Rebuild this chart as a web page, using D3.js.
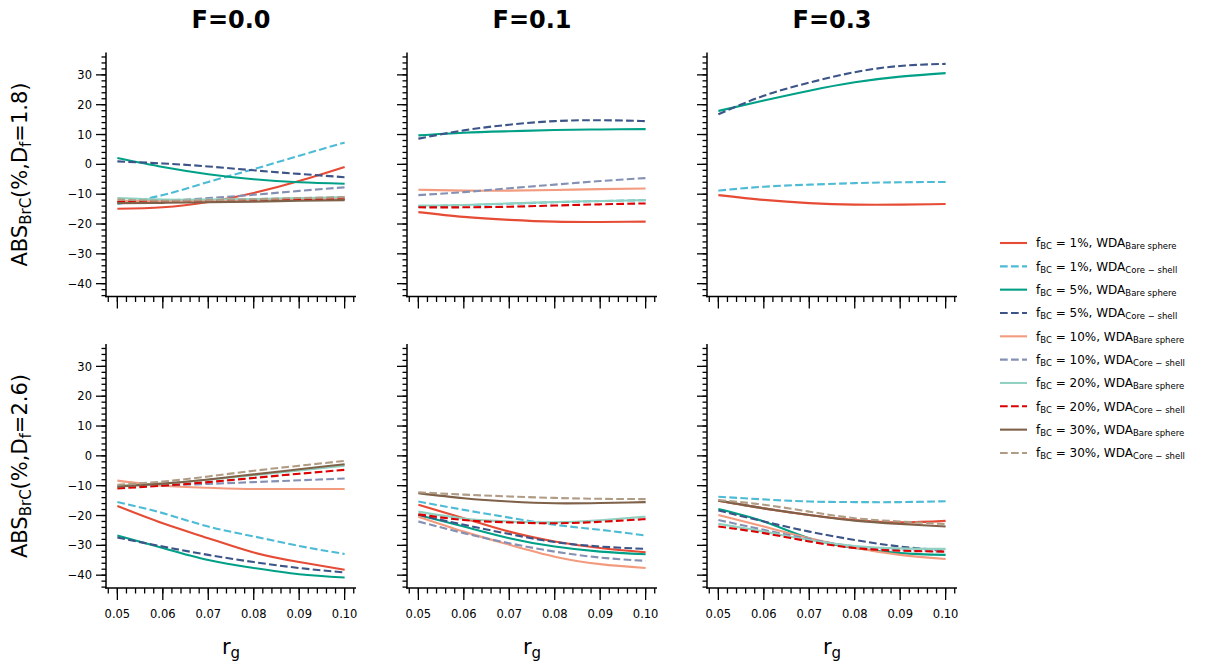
<!DOCTYPE html>
<meta charset="utf-8">
<title>ABS BrC vs r_g</title>
<style>
body {
  margin: 0px;
  background: white;
  font-family: "DejaVu Sans", sans-serif;
}
.spine {
  stroke: #000;
  stroke-width: 1.5;
}
.tick {
  stroke: #000;
  stroke-width: 1.3;
}
.ticklabel {
  font-size: 11.5px;
  fill: #000;
}
.series {
  fill: none;
  stroke-width: 2.1;
}
</style>
<body>
<svg id="chart" width="1205" height="670"></svg>
</body>
<script src="https://cdn.jsdelivr.net/npm/d3@7"></script>
<script>

// x values (r_g) read at each major tick
var rg = [0.05, 0.06, 0.07, 0.08, 0.09, 0.10];

var fireLabels = ["F=0.0", "F=0.1", "F=0.3"];
var dfLabels = ["1.8", "2.6"];

var fbc = ["1%", "1%", "5%", "5%", "10%", "10%", "20%", "20%", "30%", "30%"];
var wda = ["Bare sphere", "Core − shell", "Bare sphere", "Core − shell", "Bare sphere",
           "Core − shell", "Bare sphere", "Core − shell", "Bare sphere", "Core − shell"];
var colors = ["#E64B35", "#4DBBD5", "#00A087", "#3C5488", "#F39B7F",
              "#8491B4", "#91D1C2", "#DC0000", "#7E6148", "#B09C85"];
var dashed = [false, true, false, true, false, true, false, true, false, true];

// one array per panel, 10 series each (null = not drawn)
var dfLowF00 = [
  [-14.9, -14.4, -12.6, -9.6, -5.6, -0.9],
  [-13.3, -10.3, -5.9, -1.6, 2.9, 7.3],
  [2.1, -0.9, -3.3, -5.0, -6.0, -6.5],
  [1.0, 0.3, -0.7, -2.0, -3.2, -4.3],
  [-12.3, -12.2, -12.0, -11.8, -11.6, -11.5],
  [-12.6, -12.2, -11.3, -10.2, -8.9, -7.7],
  [-11.3, -11.8, -11.8, -11.6, -11.3, -11.0],
  [-12.6, -12.5, -12.3, -12.1, -11.9, -11.7],
  [-13.0, -12.9, -12.7, -12.5, -12.2, -12.0],
  [-11.8, -12.2, -12.0, -11.7, -11.3, -11.0]
];
var dfLowF01 = [
  [-16.0, -17.6, -18.6, -19.2, -19.3, -19.2],
  [-14.1, -13.7, -13.2, -12.7, -12.3, -12.0],
  [9.7, 10.6, 11.1, 11.5, 11.7, 11.8],
  [8.6, 11.4, 13.3, 14.5, 14.8, 14.5],
  [-8.5, -8.8, -8.8, -8.6, -8.3, -8.1],
  [-10.3, -9.3, -8.0, -6.8, -5.6, -4.6],
  [-13.8, -13.6, -13.1, -12.6, -12.3, -12.0],
  [-14.4, -14.4, -14.2, -13.8, -13.4, -13.1],
  null,
  null
];
var dfLowF03 = [
  [-10.3, -11.9, -13.0, -13.5, -13.5, -13.3],
  [-8.8, -7.5, -6.8, -6.3, -6.0, -5.9],
  [17.9, 21.4, 24.7, 27.5, 29.4, 30.6],
  [16.8, 23.0, 27.4, 30.9, 33.0, 33.7],
  null, null, null, null, null, null
];
var dfHighF00 = [
  [-16.8, -22.6, -27.6, -32.4, -35.6, -38.2],
  [-15.5, -19.2, -23.7, -27.0, -30.2, -32.9],
  [-26.7, -30.9, -34.9, -37.6, -39.7, -40.8],
  [-27.4, -30.4, -33.2, -35.6, -37.6, -39.1],
  [-8.3, -10.0, -10.7, -11.1, -11.1, -11.1],
  [-10.1, -9.9, -9.4, -8.8, -8.2, -7.6],
  [-10.0, -9.3, -8.0, -6.5, -4.9, -3.3],
  [-10.9, -10.0, -8.8, -7.4, -6.0, -4.7],
  [-10.3, -9.3, -7.9, -6.2, -4.5, -2.8],
  [-9.7, -8.6, -6.9, -5.0, -3.3, -1.7]
];
var dfHighF01 = [
  [-16.4, -20.9, -25.4, -28.7, -30.9, -32.3],
  [-15.3, -18.1, -20.7, -23.1, -24.8, -26.7],
  [-19.8, -23.7, -27.6, -30.4, -32.1, -33.0],
  [-19.8, -23.1, -26.2, -28.9, -30.4, -31.2],
  [-20.4, -25.4, -29.8, -33.8, -36.3, -37.6],
  [-22.0, -25.9, -29.3, -32.1, -34.1, -35.2],
  [-18.7, -21.0, -22.0, -22.3, -21.6, -20.4],
  [-19.6, -21.5, -22.3, -22.6, -22.1, -21.2],
  [-12.5, -14.2, -15.3, -15.9, -15.8, -15.5],
  [-12.2, -13.0, -13.6, -14.1, -14.4, -14.5]
];
var dfHighF03 = [
  [-15.0, -17.6, -19.8, -21.5, -22.3, -21.8],
  [-13.7, -14.6, -15.3, -15.5, -15.5, -15.2],
  [-17.8, -22.0, -27.6, -30.9, -32.6, -33.2],
  [-18.3, -22.0, -25.4, -28.2, -30.4, -31.7],
  [-19.8, -23.7, -27.6, -30.8, -33.2, -34.6],
  [-21.5, -24.8, -27.9, -30.4, -31.6, -32.1],
  [-22.8, -25.4, -28.2, -30.2, -31.0, -31.2],
  [-23.7, -25.9, -28.7, -30.9, -31.8, -32.1],
  [-15.0, -17.6, -19.8, -21.7, -22.8, -23.7],
  [-14.8, -16.4, -18.7, -20.9, -22.0, -22.9]
];

var panels = [[dfLowF00, dfLowF01, dfLowF03], [dfHighF00, dfHighF01, dfHighF03]];

var xTicks = [0.05, 0.06, 0.07, 0.08, 0.09, 0.10];
var yTicks = [-40, -30, -20, -10, 0, 10, 20, 30];

// layout
var colX = [106, 407, 707],
    rowY = [52.5, 344],
    pw = 250, ph = 244;

var svg = d3.select("#chart");

var x = d3.scaleLinear().domain([0.0475, 0.1025]).range([0, pw]);
var y = d3.scaleLinear().domain([-44.3, 37.5]).range([ph, 0]);

var xMinor = d3.range(0.048, 0.1025, 0.002);
var yMinor = d3.range(-44, 37.5, 2);

var line = d3.line()
    .defined(function(d) { return d != null; })
    .x(function(d, i) { return x(rg[i]); })
    .y(function(d) { return y(d); })
    .curve(d3.curveNatural);

panels.forEach(function(row, ri) {
  row.forEach(function(panel, ci) {
    var g = svg.append("g").attr("transform", "translate(" + colX[ci] + "," + rowY[ri] + ")");

    // curves
    panel.forEach(function(vals, si) {
      if (!vals) return;
      g.append("path")
        .attr("class", "series")
        .attr("d", line(vals))
        .style("stroke", colors[si])
        .style("stroke-dasharray", dashed[si] ? "7.7,3.3" : null);
    });

    // spines
    g.append("line").attr("class", "spine").attr("x1", 0).attr("x2", 0).attr("y1", 0).attr("y2", ph + 0.75);
    g.append("line").attr("class", "spine").attr("x1", -0.75).attr("x2", pw).attr("y1", ph).attr("y2", ph);

    // x ticks
    g.selectAll(".xminor").data(xMinor).enter().append("line")
      .attr("class", "tick")
      .attr("x1", function(d) { return x(d); }).attr("x2", function(d) { return x(d); })
      .attr("y1", ph).attr("y2", ph + 5.5);
    g.selectAll(".xmajor").data(xTicks).enter().append("line")
      .attr("class", "tick")
      .attr("x1", function(d) { return x(d); }).attr("x2", function(d) { return x(d); })
      .attr("y1", ph).attr("y2", ph + 12);

    // y ticks
    g.selectAll(".yminor").data(yMinor).enter().append("line")
      .attr("class", "tick")
      .attr("y1", function(d) { return y(d); }).attr("y2", function(d) { return y(d); })
      .attr("x1", 0).attr("x2", -4.5);
    g.selectAll(".ymajor").data(yTicks).enter().append("line")
      .attr("class", "tick")
      .attr("y1", function(d) { return y(d); }).attr("y2", function(d) { return y(d); })
      .attr("x1", 0).attr("x2", -10);

    if (ci == 0) {
      g.selectAll(".ylab").data(yTicks).enter().append("text")
        .attr("class", "ticklabel")
        .attr("x", -14)
        .attr("y", function(d) { return y(d); })
        .attr("dy", "0.36em")
        .attr("text-anchor", "end")
        .text(d3.format("d"));

      var yl = g.append("text")
        .attr("transform", "translate(-79," + (ph / 2) + ") rotate(-90)")
        .attr("text-anchor", "middle")
        .style("font-size", "21px");
      yl.append("tspan").text("ABS");
      yl.append("tspan").attr("baseline-shift", "-25%").style("font-size", "15px").text("BrC");
      yl.append("tspan").text("(%,D");
      yl.append("tspan").attr("baseline-shift", "-25%").style("font-size", "15px").text("f");
      yl.append("tspan").text("=" + dfLabels[ri] + ")");
    }

    if (ri == 1) {
      g.selectAll(".xlab").data(xTicks).enter().append("text")
        .attr("class", "ticklabel")
        .attr("x", function(d) { return x(d); })
        .attr("y", ph + 30)
        .attr("text-anchor", "middle")
        .text(d3.format(".2f"));

      var xl = g.append("text")
        .attr("x", pw / 2)
        .attr("y", ph + 66)
        .attr("text-anchor", "middle")
        .style("font-size", "21px");
      xl.append("tspan").text("r");
      xl.append("tspan").attr("baseline-shift", "-25%").style("font-size", "15px").text("g");
    } else {
      g.append("text")
        .attr("x", pw / 2)
        .attr("y", -25)
        .attr("text-anchor", "middle")
        .style("font-size", "24px")
        .style("font-weight", "bold")
        .text(fireLabels[ci]);
    }
  });
});

// legend
var legend = svg.append("g").attr("transform", "translate(1000,243)");
fbc.forEach(function(f, i) {
  var row = legend.append("g").attr("transform", "translate(0," + (i * 23.33) + ")");
  row.append("line")
    .attr("x1", 0).attr("x2", 27)
    .style("stroke", colors[i])
    .style("stroke-width", 2.1)
    .style("stroke-dasharray", dashed[i] ? "7.7,3.3" : null);
  var t = row.append("text")
    .attr("x", 36)
    .attr("dy", "0.35em")
    .style("font-size", "12px");
  t.append("tspan").text("f");
  t.append("tspan").attr("baseline-shift", "-25%").style("font-size", "8.5px").text("BC");
  t.append("tspan").text(" = " + f + ", WDA");
  t.append("tspan").attr("baseline-shift", "-25%").style("font-size", "8.5px").text(wda[i]);
});
</script>
